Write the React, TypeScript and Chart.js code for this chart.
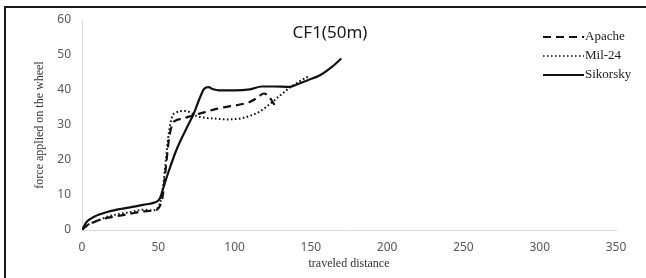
import React, { useEffect, useRef } from "react";
import { Chart, registerables } from "chart.js";

Chart.register(...registerables);

const chartTitle = "CF1(50m)";
const xAxisTitle = "traveled distance";
const yAxisTitle = "force applied on the wheel";
const seriesNames = ["Apache", "Mil-24", "Sikorsky"];

const apacheX = [0, 3, 8, 15, 22, 30, 38, 45, 49, 51, 53, 55, 57, 59, 61, 66, 73, 80, 88, 95, 103, 110, 115, 119, 122, 125, 128];
const apacheY = [0, 1.2, 2.3, 3.3, 3.9, 4.5, 5.2, 5.5, 5.8, 6.8, 10, 18, 26, 30, 31.2, 31.8, 32.8, 33.6, 34.6, 35.2, 35.8, 36.6, 37.8, 39, 38.4, 36.5, 34.5];

const milX = [0, 4, 10, 18, 25, 33, 40, 46, 49, 51, 53, 55, 57, 59, 62, 66, 70, 75, 80, 88, 96, 104, 110, 117, 124, 130, 136, 142, 148];
const milY = [0, 1.5, 2.6, 4, 4.6, 5.2, 5.8, 5.6, 6, 7.5, 12, 20, 28, 32.3, 33.6, 34, 33.8, 32.6, 32.1, 31.8, 31.6, 31.9, 32.6, 34, 36.3, 38.5, 40.6, 42.3, 43.8];

const sikX = [0, 3, 8, 17, 25, 33, 40, 48, 51, 54, 57, 62, 69, 73, 77, 80, 83, 86, 90, 100, 110, 118, 126, 136, 142, 148, 156, 163, 170];
const sikY = [0, 2.3, 3.8, 5.2, 6, 6.6, 7.2, 7.9, 9, 13, 17, 23, 29.5, 33, 37.5, 40.3, 40.8, 40.2, 39.9, 39.9, 40.2, 41, 41, 40.9, 41.8, 42.8, 44.2, 46.3, 49];

const xTicks = [0, 50, 100, 150, 200, 250, 300, 350];
const yTicks = [0, 10, 20, 30, 40, 50, 60];

const toPts = (xs: number[], ys: number[]) => xs.map((x, i) => ({ x, y: ys[i] }));

const dashes = [[8, 5], [1.6, 2.4], []];

const overlayPlugin = {
  id: "overlay",
  afterDraw(chart: any) {
    const ctx = chart.ctx;
    ctx.save();
    ctx.fillStyle = "#1a1a1a";
    ctx.font = '17px "Noto Sans", sans-serif';
    ctx.textAlign = "center";
    ctx.textBaseline = "middle";
    ctx.fillText(chartTitle, 330, 33);
    const rows = [37, 56, 75];
    ctx.font = '13px "Liberation Serif", serif';
    ctx.textAlign = "left";
    seriesNames.forEach((name, i) => {
      const y = rows[i];
      ctx.beginPath();
      ctx.setLineDash(dashes[i]);
      ctx.lineWidth = i === 1 ? 1.6 : 2.2;
      ctx.strokeStyle = "#111";
      ctx.moveTo(543, y);
      ctx.lineTo(584, y);
      ctx.stroke();
      ctx.setLineDash([]);
      ctx.fillStyle = "#222";
      ctx.fillText(name, 585, y);
    });
    ctx.restore();
  },
};

export default function App() {
  const ref = useRef<HTMLCanvasElement>(null);
  useEffect(() => {
    document.body.style.margin = "0";
    const c = new Chart(ref.current!, {
      type: "line",
      data: {
        datasets: [
          { label: seriesNames[0], data: toPts(apacheX, apacheY), borderDash: dashes[0] },
          { label: seriesNames[1], data: toPts(milX, milY), borderDash: dashes[1], borderWidth: 2 },
          { label: seriesNames[2], data: toPts(sikX, sikY), borderDash: dashes[2] },
        ].map((d: any) => ({
          borderColor: "#111",
          borderWidth: 2.2,
          pointRadius: 0,
          cubicInterpolationMode: "monotone",
          fill: false,
          ...d,
        })),
      },
      options: {
        responsive: false,
        animation: false,
        layout: { padding: { left: 29, right: 30, top: 20, bottom: 3 } },
        plugins: { legend: { display: false }, title: { display: false }, tooltip: { enabled: false } },
        scales: {
          x: {
            type: "linear",
            min: 0,
            max: 350,
            afterBuildTicks: (s: any) => { s.ticks = xTicks.map((v) => ({ value: v })); },
            afterFit: (s: any) => { s.height = 45; },
            grid: { display: false, drawTicks: false },
            border: { color: "#d9d9d9", width: 1 },
            ticks: { color: "#595959", font: { family: '"Noto Sans", sans-serif', size: 12 }, padding: 10, maxRotation: 0 },
            title: { display: true, text: xAxisTitle, color: "#333", font: { family: '"Liberation Serif", serif', size: 12 }, padding: { top: 2, bottom: 4 } },
          },
          y: {
            min: 0,
            max: 60,
            afterBuildTicks: (s: any) => { s.ticks = yTicks.map((v) => ({ value: v })); },
            afterFit: (s: any) => { s.width = 53; },
            grid: { display: false, drawTicks: false },
            border: { color: "#d9d9d9", width: 1 },
            ticks: { color: "#595959", font: { family: '"Noto Sans", sans-serif', size: 12 }, padding: 11 },
            title: { display: true, text: yAxisTitle, color: "#333", font: { family: '"Liberation Serif", serif', size: 12 }, padding: { top: 4, bottom: 4 } },
          },
        },
      },
      plugins: [overlayPlugin],
    } as any);
    return () => c.destroy();
  }, []);
  return (
    <div style={{ position: "fixed", left: 0, top: 0, width: 646, height: 278, background: "#fff" }}>
      <canvas ref={ref} width={646} height={278} style={{ position: "absolute", left: 0, top: 0 }} />
      <div style={{ position: "absolute", left: 4, top: 6, width: 660, height: 300, borderLeft: "2px solid #1a1a1a", borderTop: "2px solid #1a1a1a", boxSizing: "border-box", pointerEvents: "none" }} />
    </div>
  );
}
